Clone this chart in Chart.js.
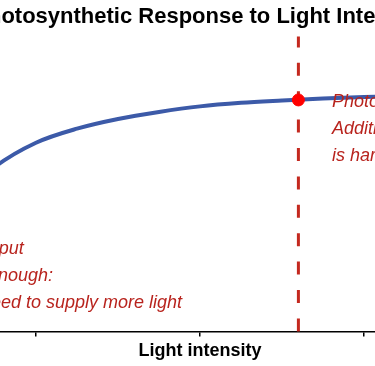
<!DOCTYPE html>
<html>
<head>
<meta charset="utf-8">
<script src="https://cdn.jsdelivr.net/npm/chart.js@4"></script>
<style>
  html, body { margin: 0; padding: 0; overflow: hidden; background: #fff; }
  body { width: 375px; height: 366px; position: relative; }
  #photoChart { position: absolute; left: -160px; top: 0; }
</style>
</head>
<body>
<canvas id="photoChart" width="720" height="366"></canvas>
<script>
// Datos
const lightValues = [0, 0.25, 0.5, 0.75, 1, 1.25, 1.5, 1.75, 2, 2.25, 2.5, 2.75, 3, 3.25, 3.5, 3.75, 4];
const rateValues = [0, 2.56, 4.37, 5.62, 6.44, 6.92, 7.25, 7.49, 7.68, 7.8, 7.88, 7.95, 8.0, 8.03, 8.07, 8.08, 8.1];
const saturationPoint = [{ x: 2.6, y: 7.9 }];
const xTicks = [0, 1, 2, 3, 4];

const leftNote = ['Weak light input', 'Light is not enough:', 'Hence we need to supply more light'];
const rightNote = ['Photosynthesis saturates:', 'Additional light', 'is hardly useful'];

const RED = '#b8231d';

// Plugin para la línea discontinua y las notas
const notesPlugin = {
    id: 'notes',
    beforeDatasetsDraw(chart) {
        const { ctx, chartArea, scales } = chart;
        const px = scales.x.getPixelForValue(saturationPoint[0].x);
        ctx.save();
        ctx.strokeStyle = '#c4291f';
        ctx.lineWidth = 3;
        ctx.setLineDash([13, 15.4]);
        ctx.beginPath();
        ctx.moveTo(px, chartArea.bottom);
        ctx.lineTo(px, chartArea.top - 2);
        ctx.stroke();
        ctx.restore();
    },
    afterDatasetsDraw(chart) {
        const { ctx, scales } = chart;
        ctx.save();
        ctx.font = 'italic 18px "Liberation Sans", Arial, sans-serif';
        ctx.fillStyle = RED;
        ctx.textAlign = 'left';
        ctx.textBaseline = 'alphabetic';
        const lx = scales.x.getPixelForValue(0.146);
        const ly = scales.y.getPixelForValue(2.63);
        leftNote.forEach((t, i) => ctx.fillText(t, lx, ly + i * 27));
        const rx = scales.x.getPixelForValue(2.805);
        const ry = scales.y.getPixelForValue(7.65);
        rightNote.forEach((t, i) => ctx.fillText(t, rx, ry + i * 27));
        ctx.restore();
    }
};

const ctx = document.getElementById('photoChart').getContext('2d');
new Chart(ctx, {
    type: 'line',
    data: {
        datasets: [
            {
                data: lightValues.map((v, i) => ({ x: v, y: rateValues[i] })),
                borderColor: '#3c5aa8',
                borderWidth: 4,
                pointRadius: 0,
                cubicInterpolationMode: 'monotone',
                fill: false,
                order: 2
            },
            {
                type: 'scatter',
                data: saturationPoint,
                backgroundColor: '#ff0000',
                borderColor: '#ff0000',
                pointRadius: 6,
                order: 1
            }
        ]
    },
    options: {
        responsive: false,
        animation: false,
        layout: { padding: { left: 32, right: 32, top: 0, bottom: 0 } },
        plugins: {
            legend: { display: false },
            tooltip: { enabled: false },
            title: {
                display: true,
                text: 'Photosynthetic Response to Light Intensity',
                color: '#000',
                font: { family: '"Liberation Sans", Arial, sans-serif', size: 22, weight: 'bold' },
                padding: { top: 4, bottom: 8 }
            }
        },
        scales: {
            x: {
                type: 'linear',
                min: 0,
                max: 4,
                afterBuildTicks: (scale) => { scale.ticks = xTicks.map(v => ({ value: v })); },
                ticks: { display: false },
                grid: { drawOnChartArea: false, drawTicks: true, tickLength: 5, color: '#000', lineWidth: 1.5 },
                border: { display: true, color: '#000', width: 1.5 },
                title: {
                    display: true,
                    text: 'Light intensity',
                    color: '#000',
                    font: { family: '"Liberation Sans", Arial, sans-serif', size: 18, weight: 'bold' },
                    padding: { top: 4, bottom: 4 }
                }
            },
            y: {
                display: false,
                min: 0,
                max: 10
            }
        }
    },
    plugins: [notesPlugin]
});
</script>
</body>
</html>
